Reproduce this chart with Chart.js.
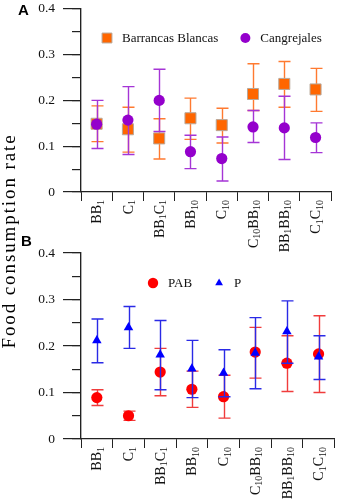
<!DOCTYPE html>
<html><head><meta charset="utf-8">
<script src="https://cdn.jsdelivr.net/npm/chart.js@4.4.0/dist/chart.umd.min.js"></script>
<style>
html,body{margin:0;padding:0;background:#fff;}
body{width:340px;height:501px;position:relative;overflow:hidden;}
#wa{position:absolute;left:0;top:0;width:340px;height:262px;}
#wb{position:absolute;left:0;top:247px;width:340px;height:254px;}
canvas{display:block;}
.pl{position:absolute;font:bold 15px 'Liberation Sans',Arial,sans-serif;line-height:15px;color:#000;}
#yt{position:absolute;left:-116px;top:229px;width:250px;height:24px;font:19px 'Liberation Serif','Times New Roman',serif;line-height:24px;letter-spacing:1.9px;text-align:center;transform:rotate(-90deg);color:#000;white-space:nowrap;}
</style></head><body>
<div id="wa"><canvas id="ca" width="340" height="262"></canvas></div>
<div id="wb"><canvas id="cb" width="340" height="254"></canvas></div>
<div id="yt">Food consumption rate</div>
<div class="pl" style="left:18px;top:2px">A</div>
<div class="pl" style="left:21px;top:233px">B</div>
<script>
const categories = ['BB₁','C₁','BB₁C₁','BB₁₀','C₁₀','C₁₀BB₁₀','BB₁BB₁₀','C₁C₁₀'];

const bbMean = [0.149,0.137,0.117,0.161,0.146,0.214,0.236,0.224];
const bbLow  = [0.110,0.087,0.072,0.115,0.107,0.178,0.185,0.176];
const bbHigh = [0.188,0.185,0.160,0.205,0.183,0.280,0.285,0.270];

const cgMean = [0.148,0.157,0.200,0.088,0.073,0.142,0.140,0.119];
const cgLow  = [0.095,0.082,0.132,0.051,0.024,0.108,0.071,0.086];
const cgHigh = [0.200,0.230,0.268,0.124,0.120,0.178,0.209,0.151];

const pabMean = [0.089,0.050,0.144,0.107,0.091,0.187,0.163,0.183];
const pabLow  = [0.072,0.040,0.093,0.068,0.045,0.131,0.102,0.100];
const pabHigh = [0.106,0.060,0.195,0.146,0.137,0.240,0.222,0.265];

const pMean = [0.212,0.240,0.181,0.151,0.142,0.185,0.231,0.177];
const pLow  = [0.164,0.195,0.106,0.089,0.091,0.108,0.163,0.128];
const pHigh = [0.258,0.285,0.255,0.212,0.192,0.261,0.297,0.222];

const yMin = 0, yMax = 0.4, yMajorStep = 0.1, yMinorStep = 0.05;
const legendA = ['Barrancas Blancas','Cangrejales'];
const legendB = ['PAB','P'];

const SERIF = "'Liberation Serif','Times New Roman',serif";

const errorBarPlugin = {
  id: 'errorBars',
  beforeDatasetDraw(chart, args) {
    const ds = chart.data.datasets[args.index];
    if (!ds.errLow) return;
    const ys = chart.scales.y, ctx = chart.ctx;
    ctx.save();
    ctx.strokeStyle = ds.errColor; ctx.lineWidth = 1.4;
    args.meta.data.forEach((pt, i) => {
      const x = Math.round(pt.x) + 0.5;
      const y1 = ys.getPixelForValue(ds.errLow[i]);
      const y2 = ys.getPixelForValue(ds.errHigh[i]);
      ctx.beginPath();
      ctx.moveTo(x, y1); ctx.lineTo(x, y2);
      ctx.moveTo(x - 6, y1); ctx.lineTo(x + 6, y1);
      ctx.moveTo(x - 6, y2); ctx.lineTo(x + 6, y2);
      ctx.stroke();
    });
    ctx.restore();
  }
};

const subLabelPlugin = {
  id: 'subLabels',
  afterDraw(chart) {
    const xs = chart.scales.x, ctx = chart.ctx;
    const top = chart.chartArea.bottom + 8;
    const fs = 14, ss = 10;
    ctx.save();
    ctx.fillStyle = '#111';
    chart.data.labels.forEach((lab, i) => {
      const x = xs.getPixelForValue(i);
      const parts = [];
      for (const ch of lab) {
        const code = ch.charCodeAt(0);
        const sub = code >= 0x2080 && code <= 0x2089;
        const c = sub ? String.fromCharCode(code - 0x2080 + 48) : ch;
        if (parts.length && parts[parts.length - 1].sub === sub) parts[parts.length - 1].t += c;
        else parts.push({ t: c, sub });
      }
      let total = 0;
      parts.forEach(p => {
        ctx.font = (p.sub ? ss : fs) + 'px ' + SERIF;
        p.w = ctx.measureText(p.t).width; total += p.w;
      });
      ctx.save();
      ctx.translate(x, top);
      ctx.rotate(-Math.PI / 2);
      ctx.textBaseline = 'alphabetic'; ctx.textAlign = 'left';
      let cx = -total;
      parts.forEach(p => {
        ctx.font = (p.sub ? ss : fs) + 'px ' + SERIF;
        ctx.fillText(p.t, cx, p.sub ? fs * 0.33 + 2.5 : fs * 0.33);
        cx += p.w;
      });
      ctx.restore();
    });
    ctx.restore();
  }
};

const legendPlugin = {
  id: 'inlineLegend',
  afterDraw(chart, args, opts) {
    const ctx = chart.ctx;
    let x = opts.x; const y = opts.y;
    ctx.save();
    chart.data.datasets.forEach(ds => {
      ctx.fillStyle = ds.pointBackgroundColor;
      ctx.strokeStyle = ds.pointBorderColor;
      ctx.lineWidth = ds.pointBorderWidth || 0;
      Chart.helpers.drawPoint(ctx, { pointStyle: ds.pointStyle, radius: ds.legendRadius, borderWidth: ds.pointBorderWidth || 0, rotation: 0 }, x, y);
      ctx.font = '13px ' + SERIF;
      ctx.fillStyle = '#111';
      ctx.textBaseline = 'middle'; ctx.textAlign = 'left';
      const tx = x + 15;
      ctx.fillText(ds.label, tx, y + 1);
      x = tx + ctx.measureText(ds.label).width + 27;
    });
    ctx.restore();
  }
};

function makeChart(id, datasets, xHeight, legendOpts) {
  return new Chart(document.getElementById(id), {
    type: 'line',
    data: { labels: categories, datasets },
    options: {
      responsive: false, animation: false, devicePixelRatio: 1,
      layout: { padding: { top: 6, right: 3, left: 0, bottom: 0 } },
      plugins: { legend: { display: false }, tooltip: { enabled: false }, inlineLegend: legendOpts },
      scales: {
        x: {
          type: 'category', offset: true,
          grid: { offset: true, drawOnChartArea: false, drawTicks: true, tickLength: 9, color: '#222', lineWidth: 1 },
          border: { display: true, color: '#222', width: 1.2 },
          ticks: { display: false },
          afterFit(s) { s.height = xHeight; s.paddingLeft = 0; s.paddingRight = 0; }
        },
        y: {
          type: 'linear', position: 'left', weight: 1, min: yMin, max: yMax,
          ticks: { stepSize: yMajorStep, padding: 8, color: '#111', font: { family: SERIF, size: 13.5 } },
          grid: { drawOnChartArea: false, tickLength: 18, color: '#222', lineWidth: 1.2 },
          border: { color: '#222', width: 1.2 },
          afterFit(s) { s.width = 81; s.paddingTop = 0; s.paddingBottom = 0; }
        },
        yMinor: {
          type: 'linear', position: 'left', weight: 0, min: yMin, max: yMax,
          ticks: { display: false, stepSize: yMinorStep },
          grid: { drawOnChartArea: false, tickLength: 9, color: '#222', lineWidth: 1.2 },
          border: { color: '#222', width: 1.2 },
          afterFit(s) { s.width = 0; s.paddingTop = 0; s.paddingBottom = 0; }
        }
      }
    },
    plugins: [errorBarPlugin, subLabelPlugin, legendPlugin]
  });
}

makeChart('ca', [
  { label: legendA[0], data: bbMean, errLow: bbLow, errHigh: bbHigh, errColor: '#ff7a30',
    showLine: false, pointStyle: 'rect', pointRadius: 7.8, legendRadius: 7,
    pointBackgroundColor: '#ff6600', pointBorderColor: '#b8a89a', pointBorderWidth: 1, order: 2 },
  { label: legendA[1], data: cgMean, errLow: cgLow, errHigh: cgHigh, errColor: '#a535d6',
    showLine: false, pointStyle: 'circle', pointRadius: 5.6, legendRadius: 5,
    pointBackgroundColor: '#9400cc', pointBorderColor: '#9400cc', pointBorderWidth: 0, order: 1 }
], 70, { x: 107, y: 38 });

makeChart('cb', [
  { label: legendB[0], data: pabMean, errLow: pabLow, errHigh: pabHigh, errColor: '#f03c3c',
    showLine: false, pointStyle: 'circle', pointRadius: 5.6, legendRadius: 5.2,
    pointBackgroundColor: '#ff0000', pointBorderColor: '#ff0000', pointBorderWidth: 0, order: 2 },
  { label: legendB[1], data: pMean, errLow: pLow, errHigh: pHigh, errColor: '#2a2ae6',
    showLine: false, pointStyle: 'triangle', pointRadius: 5.5, legendRadius: 4.5,
    pointBackgroundColor: '#0000ff', pointBorderColor: '#0000ff', pointBorderWidth: 0, order: 1 }
], 62, { x: 153, y: 36 });
</script>
</body></html>
